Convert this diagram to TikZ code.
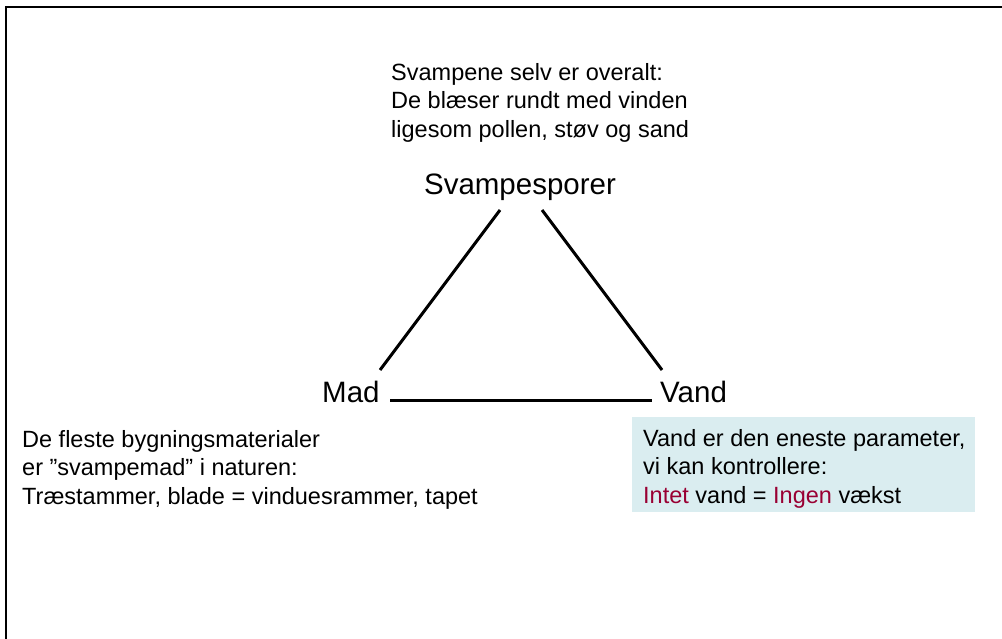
\documentclass[tikz,border=0pt]{standalone}
\usepackage{fontspec}
\setmainfont{Liberation Sans}
\definecolor{boxfill}{HTML}{DAEDF0}
\definecolor{accent}{HTML}{990033}
\begin{document}
\begin{tikzpicture}[x=1pt,y=-1pt,
  body/.style={anchor=north west,inner sep=0pt,align=left,font=\fontsize{23.5}{28.5}\selectfont},
  big/.style={inner sep=0pt,font=\fontsize{29.5}{34}\selectfont},
  link/.style={line width=3pt}]
\useasboundingbox (0,0) rectangle (1002,639);
\fill[white] (0,0) rectangle (1002,639);
\draw[line width=2.5pt] (6,639) -- (6,7) -- (1002,7);
\node[body] (top) at (391,63) {Svampene selv er overalt:\\De blæser rundt med vinden\\ligesom pollen, støv og sand};
\node[big,anchor=base] (spor) at (520,195) {Svampesporer};
\node[big,anchor=base west] (mad) at (322,402) {Mad};
\node[big,anchor=base west] (vand) at (660,402) {Vand};
\coordinate (a1) at (500,210);
\coordinate (a2) at (380,370);
\coordinate (b1) at (542,210);
\coordinate (b2) at (662,370);
\coordinate (c1) at (390,400);
\coordinate (c2) at (652,400);
\draw[link] (a1) -- (a2);
\draw[link] (b1) -- (b2);
\draw[link] (c1) -- (c2);
\node[body] (food) at (22,430) {De fleste bygningsmaterialer\\er ”svampemad” i naturen:\\Træstammer, blade = vinduesrammer, tapet};
\fill[boxfill] (632,417) rectangle (975,512);
\node[body] (water) at (643,429) {Vand er den eneste parameter,\\vi kan kontrollere:\\\textcolor{accent}{Intet} vand = \textcolor{accent}{Ingen} vækst};
\end{tikzpicture}
\end{document}
